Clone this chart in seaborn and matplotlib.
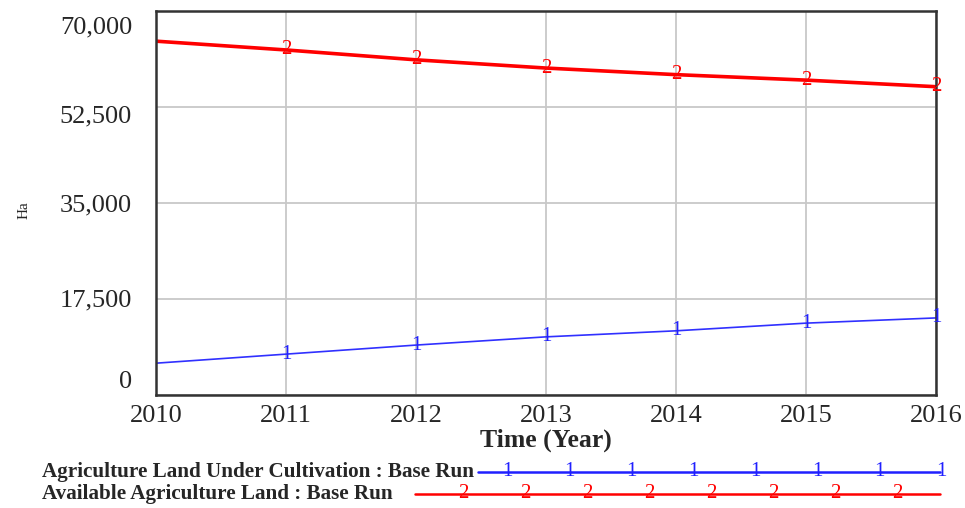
import numpy as np
import matplotlib
matplotlib.use("Agg")
import matplotlib.pyplot as plt
import matplotlib.transforms as mtransforms
import seaborn as sns
import pandas as pd
from matplotlib.lines import Line2D

years = [2010, 2011, 2012, 2013, 2014, 2015, 2016]
under_cultivation = [5800, 7450, 9100, 10600, 11700, 13100, 14050]
available_land = [64500, 62900, 61100, 59600, 58400, 57400, 56200]
y_ticks = [0, 17500, 35000, 52500, 70000]
y_tick_labels = ["0", "17,500", "35,000", "52,500", "70,000"]
legend_labels = ["Agriculture Land Under Cultivation : Base Run",
                 "Available Agriculture Land : Base Run"]

sns.set_style("white")
plt.rcParams["font.family"] = ["Liberation Serif", "DejaVu Serif"]

df = pd.DataFrame({"Year": years,
                   "Under": under_cultivation,
                   "Available": available_land})

fig = plt.figure(figsize=(9.65, 5.08), dpi=100)
ax = fig.add_axes([156/965, 1-395/508, (936-156)/965, (395-11)/508])

sns.lineplot(data=df, x="Year", y="Available", ax=ax, color="#ff0000", lw=2.6)
sns.lineplot(data=df, x="Year", y="Under", ax=ax, color="#3030ff", lw=1.2)

for x, y in zip(years[1:], available_land[1:]):
    ax.text(x, y, "2", color="#ff0000", fontsize=15, ha="center", va="center", clip_on=False)
for x, y in zip(years[1:], under_cultivation[1:]):
    ax.text(x, y, "1", color="#2020ff", fontsize=15, ha="center", va="center", clip_on=False)

ax.set_xlim(2010, 2016)
ax.set_ylim(0, 70000)
ax.set_xticks(years)
ax.set_xticklabels([str(y) for y in years], fontsize=19)
ax.set_yticks(y_ticks)
ax.set_yticklabels([])
# Vensim style y labels: the end labels are pulled inside the axis range
offsets_px = {0: 15, 17500: 1, 35000: 0, 52500: -7, 70000: -14}
ytrans = mtransforms.blended_transform_factory(ax.transAxes, ax.transData)
for v, lab in zip(y_ticks, y_tick_labels):
    tr = ytrans + mtransforms.ScaledTranslation(-24/100, offsets_px[v]/100, fig.dpi_scale_trans)
    ax.text(0, v, lab, transform=tr, fontsize=19, ha="right", va="center_baseline")

ax.grid(True, color="#c8c8c8", lw=1.3)
ax.set_axisbelow(True)
for s in ax.spines.values():
    s.set_color("#333333")
    s.set_linewidth(1.8)
ax.tick_params(axis="both", length=0)
ax.tick_params(axis="x", pad=7)
ax.set_xlabel("Time (Year)", fontsize=18.5, fontweight="bold", labelpad=1)
ax.set_ylabel("")
fig.text(24/965, 1-210/508, "Ha", fontsize=11, rotation=90, ha="center", va="center")

# legend drawn in Vensim style
colors = ["#2020ff", "#ff0000"]
ys = [1-472/508, 1-494/508]
starts = [478, 415]
marks = ["1", "2"]
mark_x = [np.arange(507, 945, 62), np.arange(463, 900, 62)]
for lab, c, yy, st, mk, mx in zip(legend_labels, colors, ys, starts, marks, mark_x):
    fig.text(42/965, yy, lab, fontsize=15.2, fontweight="bold", ha="left", va="center")
    fig.add_artist(Line2D([st/965, 940/965], [yy, yy], color=c, lw=1.8))
    for xx in mx:
        fig.text(xx/965, yy, mk, color=c, fontsize=15, ha="center", va="center")

fig.savefig("out.png", dpi=100)
